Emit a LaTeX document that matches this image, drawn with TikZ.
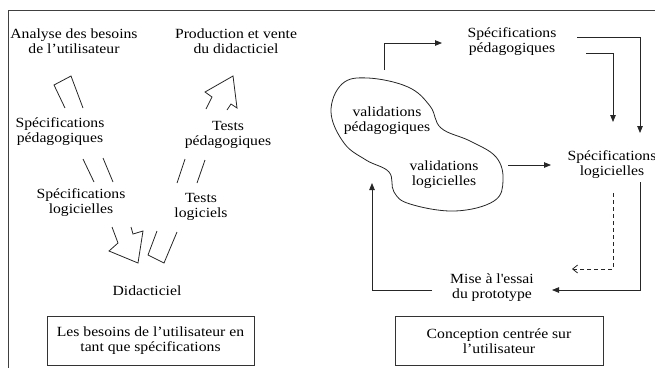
\documentclass[tikz,border=0pt]{standalone}
\usepackage{fontspec}
\setmainfont{Liberation Serif}[FakeStretch=1.12]
\usetikzlibrary{arrows.meta}
\begin{document}
\begin{tikzpicture}[x=1pt,y=-1pt,
  lbl/.style={align=center,inner sep=0pt,font=\fontsize{14}{15}\selectfont},
  ln/.style={line width=0.8pt,black!85},
  arr/.style={ln,-{Triangle[length=7pt,width=5.5pt]}},
  dsh/.style={line width=0.8pt,black!85,dash pattern=on 4pt off 3pt,-{Straight Barb[length=5pt,width=8pt]}},
  capbox/.style={draw=black!80,line width=0.8pt,align=center,inner sep=0pt,
    font=\fontsize{14}{15}\selectfont,minimum height=49pt}
]
\useasboundingbox (0,0) rectangle (655,368);
% frame
\draw[line width=0.8pt,black!75] (655,10) -- (8,10) -- (8,368);

% ---------- left panel ----------
\node[lbl] (analyse) at (74,41) {Analyse des besoins\\de l’utilisateur};
\node[lbl] (prod) at (236,41) {Production et vente\\du didacticiel};
\node[lbl] (specpedL) at (60,132) {Spécifications\\pédagogiques};
\node[lbl] (testped) at (228,135) {Tests\\pédagogiques};
\node[lbl] (speclogL) at (81,203) {Spécifications\\logicielles};
\node[lbl] (testlog) at (201,207) {Tests\\logiciels};
\node[lbl] (didac) at (147,291) {Didacticiel};
\node[capbox,minimum width=207pt] (boxL) at (150.5,340.5) {Les besoins de l’utilisateur en\\tant que spécifications};

% hollow arrow pieces (down branch)
\draw[ln] (65,108) -- (54,85) -- (71,76) -- (83,108);
\draw[ln] (83,159) -- (94,182);
\draw[ln] (103,158) -- (113,182);
\draw[ln] (112,227) -- (118,243) -- (109,251) -- (138,263) -- (143,231) -- (133,234) -- (131,227);
% hollow arrow pieces (up branch)
\draw[ln] (157,231) -- (148,255) -- (164,263) -- (177,232);
\draw[ln] (185,159) -- (177,183);
\draw[ln] (205,160) -- (197,183);
\draw[ln] (206,109) -- (212,97) -- (205,92) -- (233,76) -- (237,108) -- (231,104) -- (227,110);

% ---------- right panel ----------
\node[lbl] (specpedR) at (512,42) {Spécifications\\pédagogiques};
\node[lbl] (speclogR) at (612,165) {Spécifications\\logicielles};
\node[lbl] (valped) at (387,121) {validations\\pédagogiques};
\node[lbl] (vallog) at (444,175) {validations\\logicielles};
\node[lbl] (mise) at (492,288) {Mise à l\textquotesingle essai\\du prototype};
\node[capbox,minimum width=208pt] (boxR) at (499,341) {Conception centrée sur\\l’utilisateur};

% blob
\draw[ln] plot[smooth cycle,tension=0.65] coordinates {
  (342,84) (368,78) (408,87) (430,106) (441,128) (470,141) (496,157)
  (503,180) (494,201) (455,211) (410,204) (394,192) (389,172)
  (366,160) (344,143) (331,112)};

% connectors
\coordinate (a1s) at (384,70);
\coordinate (a1e) at (442,43);
\draw[arr] (a1s) |- (a1e);

\coordinate (a2s) at (577,37);
\coordinate (a2e) at (640,133);
\draw[arr] (a2s) -| (a2e);

\coordinate (a3s) at (586,53);
\coordinate (a3e) at (613,122);
\draw[arr] (a3s) -| (a3e);

\coordinate (a4s) at (508,165);
\coordinate (a4e) at (551,165);
\draw[arr] (a4s) -- (a4e);

\coordinate (a5s) at (613,193);
\coordinate (a5e) at (572,269);
\draw[dsh] (a5s) |- (a5e);

\coordinate (a6s) at (640,182);
\coordinate (a6e) at (552,290);
\draw[arr] (a6s) |- (a6e);

\coordinate (a7s) at (432,290);
\coordinate (a7e) at (372,183);
\draw[arr] (a7s) -| (a7e);
\end{tikzpicture}
\end{document}
